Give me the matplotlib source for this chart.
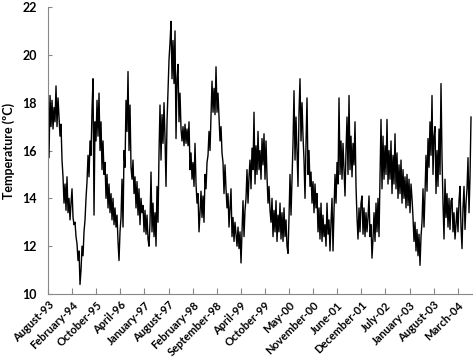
import numpy as np
import matplotlib
matplotlib.use('Agg')
import matplotlib.pyplot as plt

# category axis labels
tick_labels = ['August-93', 'February-94', 'October-95', 'April-96', 'January-97',
               'August-97', 'February-98', 'September-98', 'April-99', 'October-99',
               'May-00', 'November-00', 'June-01', 'December-01', 'July-02',
               'January-03', 'August-03', 'March-04']

# temperature readings (ºC)
temp = [
    19.0, 15.7, 18.3, 17.0, 18.1, 16.9, 17.8, 17.2, 18.7, 17.0,
    18.2, 17.4, 16.6, 17.1, 15.6, 14.9, 13.8, 14.6, 13.5, 14.9,
    13.4, 14.0, 13.1, 13.8, 14.4, 13.2, 12.9, 13.0, 12.4, 12.1,
    11.4, 11.8, 10.4, 11.0, 12.0, 11.6, 12.6, 13.1, 14.0, 14.7,
    15.8, 14.9, 16.4, 15.8, 17.7, 19.0, 13.3, 17.2, 16.4, 18.1,
    16.6, 18.4, 16.0, 17.2, 15.2, 16.4, 15.0, 15.5, 14.0, 15.0,
    13.6, 14.6, 13.4, 14.2, 13.1, 14.0, 12.9, 13.6, 12.8, 13.3,
    12.2, 11.4, 12.6, 13.2, 14.8, 12.8, 16.0, 15.3, 18.1, 16.8,
    19.3, 16.0, 17.9, 15.3, 14.8, 15.6, 14.2, 14.9, 13.6, 14.7,
    13.3, 14.4, 12.9, 14.0, 13.4, 13.7, 12.6, 13.5, 12.5, 13.3,
    12.3, 12.0, 13.0, 15.1, 12.6, 13.8, 12.4, 13.4, 12.0, 14.5,
    13.0, 15.9, 17.9, 15.6, 17.5, 16.3, 18.0, 16.5, 14.5, 17.2,
    18.5, 19.8, 20.5, 21.4, 19.0, 20.6, 18.8, 21.0, 16.5, 19.0,
    19.6, 17.2, 18.4, 16.9, 16.4, 17.0, 16.2, 17.1, 16.3, 16.9,
    16.2, 17.2, 15.2, 15.9, 14.8, 15.5, 14.5, 16.3, 14.6, 13.8,
    14.2, 12.6, 13.4, 14.3, 13.2, 14.1, 13.0, 15.0, 14.4, 15.5,
    15.8, 16.8, 16.0, 17.4, 18.9, 17.6, 18.6, 17.5, 19.5, 17.6,
    18.4, 17.4, 16.4, 17.0, 15.9, 15.5, 14.2, 15.4, 14.4, 13.6,
    14.2, 12.8, 13.6, 14.4, 12.4, 13.2, 12.2, 13.0, 12.5, 12.0,
    12.8, 11.9, 12.6, 11.3, 12.6, 13.9, 12.4, 13.5, 14.0, 15.2,
    13.8, 14.9, 15.6, 14.4, 16.1, 15.2, 17.6, 14.6, 16.2, 15.0,
    16.8, 15.2, 16.0, 14.8, 16.5, 15.4, 16.7, 14.8, 16.4, 14.9,
    13.8, 14.5, 13.5, 13.0, 14.0, 12.4, 13.5, 12.6, 13.9, 12.2,
    13.3, 12.6, 13.8, 12.3, 13.4, 12.2, 13.6, 12.4, 13.1, 12.0,
    11.7, 13.2, 15.0, 13.3, 14.8, 16.3, 18.5, 15.6, 17.4, 16.0,
    14.5, 17.6, 19.0, 16.4, 18.0, 16.6, 15.6, 14.0, 16.3, 18.2,
    15.0, 16.0, 14.5, 15.1, 13.8, 14.7, 13.4, 14.6, 13.6, 14.2,
    12.6, 13.6, 12.3, 13.8, 12.2, 13.3, 12.4, 12.9, 12.0, 13.8,
    12.5, 13.1, 11.8, 13.0, 14.0, 11.8, 13.5, 15.0, 13.8, 15.5,
    14.6, 18.2, 15.0, 16.4, 14.8, 16.3, 15.2, 14.1, 16.0, 17.4,
    15.0, 18.3, 15.2, 16.6, 14.9, 16.3, 15.4, 17.2, 14.5, 13.2,
    12.3, 13.6, 12.6, 13.8, 14.1, 12.5, 13.6, 12.4, 13.4, 12.6,
    13.2, 14.1, 12.4, 12.9, 11.5, 12.3, 13.4, 12.2, 13.8, 12.6,
    14.0, 12.4, 14.8, 17.3, 14.4, 16.6, 14.8, 16.2, 15.0, 17.3,
    14.6, 16.0, 14.8, 16.4, 14.2, 15.8, 14.6, 16.7, 14.4, 15.9,
    14.0, 15.4, 14.2, 15.6, 13.8, 15.2, 14.0, 14.9, 13.6, 15.0,
    13.7, 14.8, 13.4, 14.6, 14.0, 13.2, 12.2, 13.0, 11.8, 12.7,
    11.6, 12.5, 11.2, 12.4, 13.0, 14.4, 12.8, 14.2, 15.8, 14.3,
    16.5, 15.3, 17.2, 15.8, 18.3, 15.0, 16.6, 17.0, 14.2, 16.0,
    14.5, 16.9, 15.0, 18.8, 15.7, 13.8, 12.3, 14.8, 13.2, 14.2,
    12.8, 14.0, 12.7, 13.9, 14.0, 12.6, 13.4, 12.3, 12.9, 13.6,
    12.6, 13.9, 14.5, 12.8, 11.9, 13.6, 14.5, 12.7, 13.8, 14.4,
    15.7, 13.4, 14.9, 17.4,
]

plt.rcParams['font.family'] = ['Lato', 'DejaVu Sans']
plt.rcParams['font.weight'] = 'bold'

fig = plt.figure(figsize=(4.74, 3.63), dpi=100)
ax = fig.add_axes([0.1013, 0.19, 0.8945, 0.7907])

idx = np.arange(len(temp))
ax.plot(idx, temp, color='black', lw=1.0)

# one category per pixel column, labels every ~24 categories
ticks = np.arange(len(tick_labels)) * 24.1
ax.set_xlim(0, len(temp))
ax.set_ylim(10, 22)
ax.set_xticks(ticks)
ax.set_xticklabels(tick_labels, rotation=45, ha='right', rotation_mode='anchor',
                   fontsize=8, fontweight='bold')
ax.set_yticks(np.arange(10, 23, 2))
ax.tick_params(axis='y', labelsize=9, direction='in', length=3, color='#888888', pad=8)
ax.tick_params(axis='x', direction='in', length=4, color='#888888', pad=4)
for s in ['top', 'right']:
    ax.spines[s].set_visible(False)
for s in ['left', 'bottom']:
    ax.spines[s].set_color('#888888')
    ax.spines[s].set_linewidth(0.8)
ax.set_ylabel('Temperature (ºC)', fontsize=9, fontweight='bold', labelpad=5)

plt.savefig('out.png', dpi=100)
